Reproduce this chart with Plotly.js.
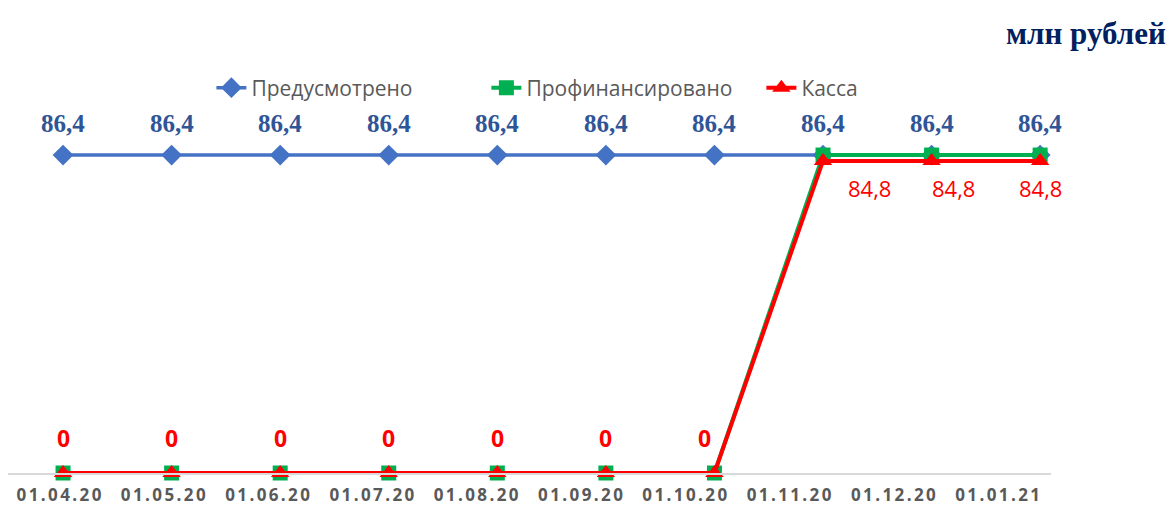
<!DOCTYPE html>
<html>
<head>
<meta charset="utf-8">
<script src="https://cdn.plot.ly/plotly-3.0.1.min.js"></script>
<style>
html,body{margin:0;padding:0;background:#fff;}
#chart{width:1173px;height:508px;}
.x2tick text{letter-spacing:2.4px;}
</style>
</head>
<body>
<div id="chart"></div>
<script>
const dates = ["01.04.20","01.05.20","01.06.20","01.07.20","01.08.20","01.09.20","01.10.20","01.11.20","01.12.20","01.01.21"];
const planned = [86.4,86.4,86.4,86.4,86.4,86.4,86.4,86.4,86.4,86.4];
const financed = [0,0,0,0,0,0,0,86.4,86.4,86.4];
const cash = [0,0,0,0,0,0,0,84.8,84.8,84.8];
const plannedLabels = ["86,4","86,4","86,4","86,4","86,4","86,4","86,4","86,4","86,4","86,4"];
const cashLabels = ["0","0","0","0","0","0","0","84,8","84,8","84,8"];

const traces = [
  {x: dates, y: planned, name: "Предусмотрено", type: "scatter", mode: "lines+markers", cliponaxis: false,
   line: {color: "#4472C4", width: 3.5}, marker: {symbol: "diamond", size: 16, color: "#4472C4"}, hoverinfo: "skip"},
  {x: dates, y: financed, name: "Профинансировано", type: "scatter", mode: "lines+markers", cliponaxis: false,
   line: {color: "#00B050", width: 4}, marker: {symbol: "square", size: 15, color: "#00B050"}, hoverinfo: "skip"},
  {x: dates, y: cash, name: "Касса", type: "scatter", mode: "lines+markers", cliponaxis: false,
   line: {color: "#FF0000", width: 4}, marker: {symbol: "triangle-up", size: 16, color: "#FF0000"}, hoverinfo: "skip"},
  {x: dates, y: planned, xaxis: "x2", type: "scatter", mode: "none", showlegend: false, hoverinfo: "skip"}
];

const annotations = [];
dates.forEach((d, i) => {
  annotations.push({x: d, y: planned[i], xref: "x", yref: "y", text: plannedLabels[i], showarrow: false,
    yshift: 32, font: {family: "Liberation Serif, Times New Roman, serif", size: 25, color: "#2F5597", weight: "bold"}});
});
const cashDx = [0,0,0,0,0,0,-10,46,22,0];
dates.forEach((d, i) => {
  const zero = cash[i] === 0;
  annotations.push({x: d, y: cash[i], xref: "x", yref: "y", text: cashLabels[i], showarrow: false,
    xshift: cashDx[i], yshift: zero ? 35 : -27,
    font: {family: "Open Sans, sans-serif", size: zero ? 23 : 22, color: "#FF0000", weight: zero ? "bold" : "normal"}});
});
annotations.push({x: (1168 - 8) / 1043, xref: "paper", y: 1, yref: "paper", text: "<b>млн рублей</b>", showarrow: false,
  xanchor: "right", yanchor: "middle", yshift: 72,
  font: {family: "Liberation Serif, Times New Roman, serif", size: 31, color: "#002060"}});

const layout = {
  width: 1173, height: 508,
  margin: {l: 8, r: 122, t: 105, b: 35},
  paper_bgcolor: "#fff", plot_bgcolor: "#fff",
  showlegend: true,
  legend: {orientation: "h", x: 0.195, xanchor: "left", y: 1.046, yanchor: "middle",
    entrywidth: 230, entrywidthmode: "pixels",
    font: {family: "Open Sans, sans-serif", size: 21, color: "#595959"}, tracegroupgap: 0},
  xaxis: {type: "category", range: [-0.507, 9.1], showticklabels: false, ticks: "", showgrid: false,
    showline: true, linecolor: "#D9D9D9", linewidth: 1.5, zeroline: false, fixedrange: true},
  xaxis2: {type: "category", overlaying: "x", side: "bottom", anchor: "y", range: [-0.5, 9.5], showgrid: false, showline: false,
    ticks: "", ticklabelstandoff: 10, zeroline: false,
    tickfont: {family: "Open Sans, sans-serif", size: 17, color: "#595959", weight: "bold"}, fixedrange: true},
  yaxis: {range: [0, 100], showticklabels: false, showgrid: false, zeroline: false, showline: false, ticks: "", fixedrange: true},
  annotations: annotations
};

Plotly.newPlot("chart", traces, layout, {displayModeBar: false, staticPlot: true});
</script>
</body>
</html>
